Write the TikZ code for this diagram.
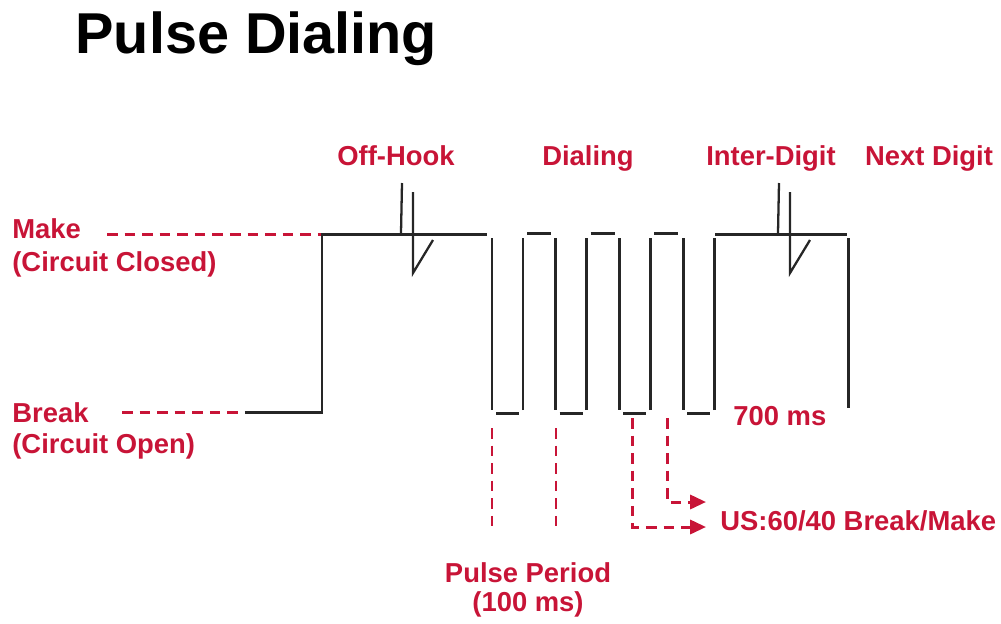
\documentclass[tikz,border=0pt]{standalone}
\usepackage{fontspec}
\setmainfont{Liberation Sans}
\usetikzlibrary{positioning, arrows.meta}
\definecolor{pdred}{RGB}{200,20,55}

\begin{document}
\begin{tikzpicture}[
  x=0.02cm, y=-0.02cm,
  font=\fontsize{15.6}{18.5}\selectfont\bfseries,
  lbl/.style={text=pdred, inner sep=0pt, align=left},
  wave/.style={line width=1.7pt, black!85},
  lead/.style={pdred, line width=1.7pt, dash pattern=on 6pt off 4pt},
  arr/.style={lead, -{Triangle[length=9pt, width=8pt]}}
]
\useasboundingbox (0,0) rectangle (1001,623);

% --- title ---
\node[anchor=base west, inner sep=0pt, font=\fontsize{32.8}{38}\selectfont\bfseries] (title) at (75,53) {Pulse Dialing};

% --- phase labels ---
\node[lbl, anchor=base] (offhook) at (396,165) {Off-Hook};
\node[lbl, anchor=base] (dialing) at (588,165) {Dialing};
\node[lbl, anchor=base] (inter)   at (771,165) {Inter-Digit};
\node[lbl, anchor=base] (next)    at (929,165) {Next Digit};

% --- level labels ---
\node[lbl, anchor=base west] (make)  at (12,271) {Make\\[0pt](Circuit Closed)};
\node[lbl, anchor=base west] (break) at (12,453) {Break\\[-1pt](Circuit Open)};
\coordinate (mkend) at (322,234);
\coordinate (bkend) at (245,412);
\draw[lead] (107,234) -- (mkend);
\draw[lead] (122,412) -- (bkend);

% --- waveform ---
\draw[wave] (bkend) -- (322,412) -- (mkend) -- (487,234);
\foreach \i in {0,...,3} {
  \pgfmathsetmacro{\xf}{492+63.7*\i}
  \draw[wave] (\xf,238) -- (\xf,410);
  \draw[wave] (\xf+4,413) -- (\xf+27,413);
  \draw[wave] (\xf+31,410) -- (\xf+31,238);
  \ifnum\i<3
    \draw[wave] (\xf+35,233) -- (\xf+59,233);
  \fi
}
\draw[wave] (715,234) -- (847,234);
\draw[wave] (848,238) -- (848,408);

% hook switch bounce
\foreach \xo in {0,377} {
  \draw[wave, line width=1.3pt] (402+\xo,183) -- (401+\xo,233);
  \draw[wave, line width=1.3pt] (413+\xo,192) -- (413+\xo,273) -- (433+\xo,240);
}

% --- timing labels ---
\node[lbl, anchor=base west] (ms700) at (733,425) {700 ms};
\node[lbl, anchor=base, align=center] (period) at (528,611) {Pulse Period\\[-2pt](100 ms)};
\node[lbl, anchor=base west] (ratio) at (720,530) {US:60/40 Break/Make};

% pulse period markers
\draw[lead] (492,428) -- (492,527);
\draw[lead] (556,428) -- (556,527);

% break/make ratio arrows
\coordinate (ra) at (706,527);
\coordinate (rb) at (706,502);
\draw[arr] (632,418) |- (ra);
\draw[arr] (667,418) |- (rb);
\end{tikzpicture}
\end{document}
